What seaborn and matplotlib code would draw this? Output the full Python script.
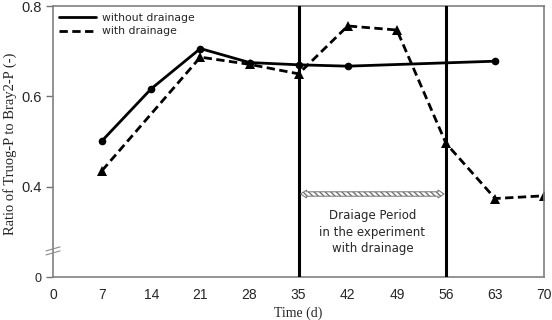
import numpy as np
import pandas as pd
import matplotlib
matplotlib.use("Agg")
import matplotlib.pyplot as plt
import seaborn as sns
from matplotlib.patches import Polygon

sns.set_theme(style="white")
plt.rcParams['font.family'] = ['Liberation Sans', 'DejaVu Sans']

# ---- data ----
days_without = [7, 14, 21, 28, 35, 42, 63]
ratio_without = [0.502, 0.617, 0.706, 0.675, 0.670, 0.667, 0.678]
days_with = [7, 21, 28, 35, 42, 49, 56, 63, 70]
ratio_with = [0.436, 0.687, 0.671, 0.650, 0.756, 0.747, 0.496, 0.374, 0.380]
series_names = ["without drainage", "with drainage"]
x_ticks = [0, 7, 14, 21, 28, 35, 42, 49, 56, 63, 70]
y_ticks = [0.2, 0.4, 0.6, 0.8]          # 0.2 position shows the broken-axis "0"
y_tick_labels = ["0", "0.4", "0.6", "0.8"]
drain_start, drain_end = 35, 56
annot_text = "Draiage Period\nin the experiment\nwith drainage"

df = pd.concat([
    pd.DataFrame({"day": days_without, "ratio": ratio_without, "series": series_names[0]}),
    pd.DataFrame({"day": days_with, "ratio": ratio_with, "series": series_names[1]}),
])

fig = plt.figure(figsize=(5.52, 3.2), dpi=100)
ax = fig.add_axes([0.096, 0.134, 0.890, 0.847])

sns.lineplot(data=df[df.series == series_names[0]], x="day", y="ratio",
             color="black", marker="o", markersize=5.5, markeredgewidth=0,
             linewidth=2, ax=ax, sort=False, label=series_names[0])
sns.lineplot(data=df[df.series == series_names[1]], x="day", y="ratio",
             color="black", marker="^", markersize=7, markeredgewidth=0,
             linewidth=2, dashes=False, ax=ax, sort=False, label=series_names[1])
ax.lines[1].set_dashes((3, 1.6))

ax.axvline(drain_start, color="black", lw=2.2, zorder=5)
ax.axvline(drain_end, color="black", lw=2.2, zorder=5)

ax.set_xlim(0, 70)
ax.set_ylim(0.2, 0.8)
ax.set_xticks(x_ticks)
ax.set_xticklabels([str(t) for t in x_ticks], fontsize=10)
ax.set_yticks(y_ticks)
ax.set_yticklabels(y_tick_labels, fontsize=10.5)
ax.get_yticklabels()[0].set_fontsize(9)
ax.tick_params(axis="x", length=0, pad=8)
ax.tick_params(axis="y", length=5, width=1, color="0.45", direction="out", pad=3, left=True)

for s in ax.spines.values():
    s.set_color("0.5")
    s.set_linewidth(1.2)

ax.set_xlabel("Time (d)", family="Liberation Serif", fontsize=10, labelpad=3)
ax.set_ylabel("Ratio of Truog-P to Bray2-P (-)", family="Liberation Serif", fontsize=10.5)
ax.yaxis.set_label_coords(-0.074, 0.49)

leg = ax.legend(loc="upper left", frameon=False, handlelength=3.4,
                borderaxespad=0.2, labelspacing=0.35, handletextpad=0.5,
                prop={"family": "DejaVu Sans", "size": 7.8})
for h in leg.get_lines():
    h.set_marker("")
    h.set_linewidth(2)

# axis break marks on left spine
fig.canvas.draw()
tr = ax.transData
yb = 0.258
p0 = tr.transform((0, yb))
for dy in (-2, 2):
    ax.plot([p0[0] - 7, p0[0] + 7], [p0[1] + dy - 2, p0[1] + dy + 2],
            transform=None, color="0.55", lw=0.8, clip_on=False, zorder=6)

# hatched double-headed arrow for drainage period
ya = 0.384
a = tr.transform((drain_start, ya))
b = tr.transform((drain_end, ya))
hw, hl, tw = 4.0, 6.0, 2.2
x1, x2, yc = a[0] + 2, b[0] - 2, a[1]
pts = [(x1, yc), (x1 + hl, yc + hw), (x1 + hl, yc + tw), (x2 - hl, yc + tw),
       (x2 - hl, yc + hw), (x2, yc), (x2 - hl, yc - hw), (x2 - hl, yc - tw),
       (x1 + hl, yc - tw), (x1 + hl, yc - hw)]
arrow = Polygon(pts, closed=True, transform=None, facecolor="white",
                edgecolor="0.45", lw=0.7, hatch="\\\\\\\\\\\\", zorder=6)
ax.add_patch(arrow)

ax.text((drain_start + drain_end) / 2, 0.35, annot_text, ha="center", va="top",
        fontsize=8.5, family="DejaVu Sans", linespacing=1.35)

fig.savefig("out.png", dpi=100)
